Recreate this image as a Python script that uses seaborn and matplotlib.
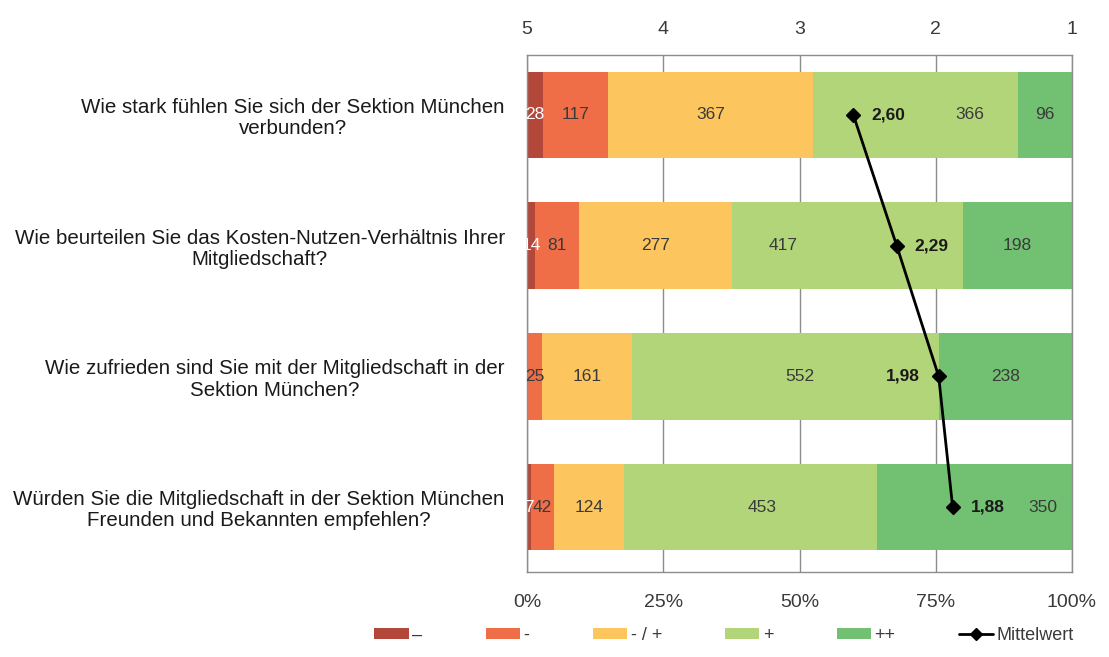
import numpy as np
import pandas as pd
import matplotlib
matplotlib.use('Agg')
import matplotlib.pyplot as plt
from matplotlib.patches import Patch
from matplotlib.lines import Line2D
import seaborn as sns

# Fragen (y-Achse)
questions = [
    'Wie stark fühlen Sie sich der Sektion München\nverbunden?',
    'Wie beurteilen Sie das Kosten-Nutzen-Verhältnis Ihrer\nMitgliedschaft?',
    'Wie zufrieden sind Sie mit der Mitgliedschaft in der\nSektion München?',
    'Würden Sie die Mitgliedschaft in der Sektion München\nFreunden und Bekannten empfehlen?',
]

# Anzahl Antworten je Stufe (-- = 5 ... ++ = 1)
cnt_mm = [28, 14, 2, 7]
cnt_m = [117, 81, 25, 42]
cnt_neutral = [367, 277, 161, 124]
cnt_p = [366, 417, 552, 453]
cnt_pp = [96, 198, 238, 350]

level_labels = ['–', '-', '- / +', '+', '++']
level_scores = [5, 4, 3, 2, 1]
level_colors = ['#b3473a', '#ef6e48', '#fcc55e', '#b3d57a', '#72c172']

top_tick_labels = ['5', '4', '3', '2', '1']
bottom_tick_labels = ['0%', '25%', '50%', '75%', '100%']

counts = np.array([cnt_mm, cnt_m, cnt_neutral, cnt_p, cnt_pp], dtype=float)
totals = counts.sum(axis=0)
pct = counts / totals * 100
cum = pct.cumsum(axis=0)
means = (counts * np.array(level_scores)[:, None]).sum(axis=0) / totals
mean_pos = (5 - means) * 25

df = pd.DataFrame({'question': questions})
for k in range(5):
    df[f'cum{k}'] = cum[k]

# Beschriftungen etwas verschoben, damit sie nicht mit den Mittelwerten kollidieren
label_shift = {(0, 3): 9.9, (1, 3): -11.8, (2, 3): 2.7, (3, 3): 2.2, (3, 4): 12.5}
mean_label_left = {2}

sns.set_theme(style='white')
plt.rcParams['font.family'] = ['Liberation Sans', 'DejaVu Sans']

fig = plt.figure(figsize=(11.09, 6.57), dpi=100)
ax = fig.add_axes([527 / 1109, 1 - 572 / 657, 545 / 1109, 517 / 657])

# gestapelte Balken: kumulierte Summen von hinten nach vorne übereinander
for k in range(4, -1, -1):
    sns.barplot(data=df, x=f'cum{k}', y='question', color=level_colors[k],
                orient='h', width=0.66, saturation=1, edgecolor='none', ax=ax)

# Werte in den Segmenten
for i in range(len(questions)):
    left = 0
    for k in range(5):
        w = pct[k, i]
        val = int(counts[k, i])
        if val >= 5:
            ax.text(left + w / 2 + label_shift.get((i, k), 0), i, str(val),
                    ha='center', va='center', fontsize=12.5,
                    color='white' if k == 0 else '#3a3a3a', clip_on=True)
        left += w

# Mittelwert-Linie
ax.plot(mean_pos, np.arange(len(questions)), color='black', lw=2,
        marker='D', markersize=7, zorder=5)
for i, (m, p) in enumerate(zip(means, mean_pos)):
    txt = f'{m:.2f}'.replace('.', ',')
    if i in mean_label_left:
        ax.text(p - 3.5, i, txt, ha='right', va='center', fontsize=12.5,
                fontweight='bold', color='#1a1a1a', zorder=6)
    else:
        ax.text(p + 3.3, i, txt, ha='left', va='center', fontsize=12.5,
                fontweight='bold', color='#1a1a1a', zorder=6)

ax.set_xlim(0, 100)
ax.set_ylim(3 + 65 / 131, -60 / 131)
ax.set_xticks([0, 25, 50, 75, 100])
ax.set_xticklabels(bottom_tick_labels, fontsize=14, color='#3a3a3a')
ax.set_xlabel('')
ax.set_ylabel('')
ax.tick_params(axis='x', length=0, pad=16)
ax.tick_params(axis='y', length=0, pad=16, labelsize=14.8, labelcolor='#1a1a1a')
for lbl in ax.get_yticklabels():
    lbl.set_multialignment('center')
    lbl.set_linespacing(1.15)
ax.xaxis.grid(True, color='#8c8c8c', lw=1)
ax.set_axisbelow(True)
for s in ax.spines.values():
    s.set_visible(True)
    s.set_color('#8c8c8c')
    s.set_linewidth(1)

top = ax.twiny()
top.set_xlim(0, 100)
top.set_xticks([0, 25, 50, 75, 100])
top.set_xticklabels(top_tick_labels, fontsize=14, color='#3a3a3a')
top.tick_params(axis='x', length=0, pad=12)
for s in top.spines.values():
    s.set_visible(False)

handles = [Patch(facecolor=c, edgecolor='none') for c in level_colors]
handles.append(Line2D([0], [0], color='black', lw=2, marker='D', markersize=6))
fig.legend(handles, level_labels + ['Mittelwert'], loc='lower center',
           bbox_to_anchor=(0.653, -0.005), ncol=6, frameon=False, fontsize=13,
           handlelength=1.9, handleheight=0.55, handletextpad=0.2,
           columnspacing=3.5, labelcolor='#3a3a3a')

fig.savefig('out.png', dpi=100)
